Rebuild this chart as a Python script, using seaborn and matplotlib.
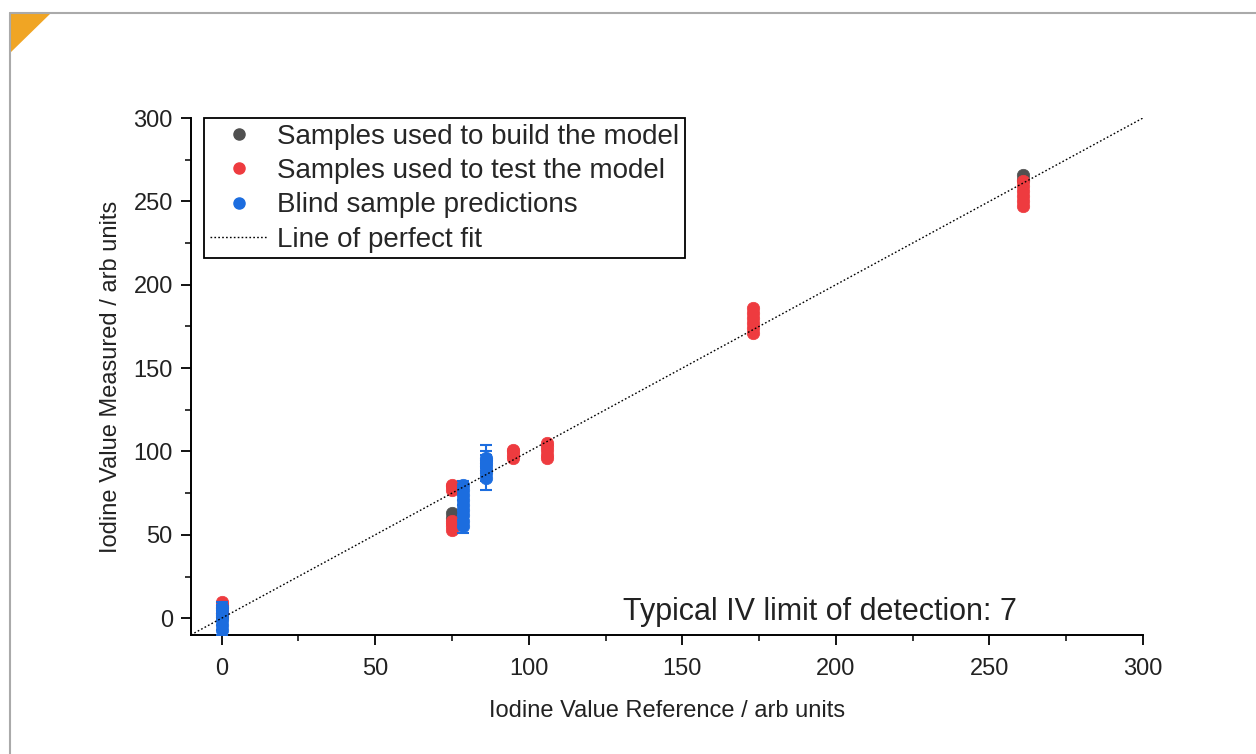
import numpy as np
import pandas as pd
import matplotlib
matplotlib.use("Agg")
import matplotlib.pyplot as plt
import seaborn as sns
from matplotlib.lines import Line2D
from matplotlib.patches import Polygon
from matplotlib.ticker import MultipleLocator

# ---- data ----
build_x = [0, 0, 75, 75, 261, 261]
build_y = [1, 3, 60, 63, 263, 266]

test_x = [0, 0, 0, 0,
          75, 75, 75, 75, 75, 75, 75,
          95, 95, 95, 95,
          106, 106, 106, 106, 106,
          173, 173, 173, 173, 173, 173,
          261, 261, 261, 261, 261, 261]
test_y = [3, 6, 8, 10,
          77, 79, 80, 53, 55, 57, 58,
          96, 98, 100, 101,
          96, 98, 101, 103, 105,
          171, 174, 177, 180, 183, 186,
          247, 250, 253, 256, 259, 262]

blind_x = [0, 0, 0, 0, 0, 0,
           78.6, 78.6, 78.6, 78.6, 78.6, 78.6, 78.6, 78.6, 78.6,
           86, 86, 86, 86, 86, 86, 86]
blind_y = [-7, -4, -1, 2, 5, 7,
           55, 58, 62, 65, 68, 71, 74, 77, 80,
           84, 87, 89, 91, 93, 95, 96]
blind_err = [3, 3, 3, 3, 3, 3,
             4, 3, 3, 3, 3, 3, 3, 3, 2,
             7, 5, 4, 4, 5, 5, 8]

fit_x = [-10, 300]
fit_y = [-10, 300]

labels = ["Samples used to build the model",
          "Samples used to test the model",
          "Blind sample predictions",
          "Line of perfect fit"]
annotation = "Typical IV limit of detection: 7"

c_build = "#505050"
c_test = "#ee3b3f"
c_blind = "#1c6ddf"

sns.set_theme(style="ticks")
plt.rcParams["font.family"] = ["Liberation Sans", "DejaVu Sans"]

fig = plt.figure(figsize=(12.56, 7.54), dpi=100)
ax = fig.add_axes([0.152, 0.158, 0.758, 0.6855])

df_build = pd.DataFrame({"x": build_x, "y": build_y})
df_test = pd.DataFrame({"x": test_x, "y": test_y})
df_blind = pd.DataFrame({"x": blind_x, "y": blind_y, "e": blind_err})

ax.plot(fit_x, fit_y, color="black", linestyle=(0, (1.2, 1.6)), linewidth=1.0, zorder=4)

sns.scatterplot(data=df_build, x="x", y="y", ax=ax, color=c_build, s=80,
                edgecolor=c_build, linewidth=0.5, zorder=2, legend=False)
sns.scatterplot(data=df_test, x="x", y="y", ax=ax, color=c_test, s=80,
                edgecolor=c_test, linewidth=0.5, zorder=3, legend=False)
ax.errorbar(df_blind["x"], df_blind["y"], yerr=df_blind["e"], fmt="none",
            ecolor=c_blind, elinewidth=1.5, capsize=4, capthick=1.5, zorder=3)
sns.scatterplot(data=df_blind, x="x", y="y", ax=ax, color=c_blind, s=80,
                edgecolor=c_blind, linewidth=0.5, zorder=3, legend=False)

ax.set_xlim(-10, 300)
ax.set_ylim(-10, 300)
ax.xaxis.set_major_locator(MultipleLocator(50))
ax.yaxis.set_major_locator(MultipleLocator(50))
ax.xaxis.set_minor_locator(MultipleLocator(25))
ax.yaxis.set_minor_locator(MultipleLocator(25))
ax.tick_params(which="major", direction="out", length=7, width=1.3, labelsize=17,
               colors="black", labelcolor="#222222")
ax.tick_params(axis="x", which="major", pad=10)
ax.tick_params(axis="y", which="major", pad=6)
ax.tick_params(which="minor", direction="out", length=4, width=1.1, colors="black")
for s in ["top", "right"]:
    ax.spines[s].set_visible(False)
for s in ["left", "bottom"]:
    ax.spines[s].set_linewidth(1.4)
    ax.spines[s].set_color("black")

ax.set_xlabel("Iodine Value Reference / arb units", fontsize=17, color="#222222", labelpad=14)
ax.set_ylabel("Iodine Value Measured / arb units", fontsize=17, color="#222222", labelpad=8)

handles = [
    Line2D([], [], linestyle="none", marker="o", markersize=8, color=c_build),
    Line2D([], [], linestyle="none", marker="o", markersize=8, color=c_test),
    Line2D([], [], linestyle="none", marker="o", markersize=8, color=c_blind),
    Line2D([], [], linestyle=(0, (1.2, 1.6)), linewidth=1.0, color="black"),
]
leg = ax.legend(handles, labels, loc="upper left", bbox_to_anchor=(0.014, 1.0),
                fontsize=20, frameon=True, fancybox=False, edgecolor="black",
                framealpha=1, borderpad=0.2, labelspacing=0.3, handlelength=2.1,
                handletextpad=0.33, borderaxespad=0)
leg.get_frame().set_linewidth(1.3)

ax.text(0.868, 0.045, annotation, transform=ax.transAxes, ha="right", va="center",
        fontsize=22, color="#222222")

# screenshot frame decoration
fig.add_artist(Line2D([10 / 1256, 1.0], [1 - 13 / 754, 1 - 13 / 754],
                      transform=fig.transFigure, color="#aaaaaa", linewidth=1.5))
fig.add_artist(Line2D([10 / 1256, 10 / 1256], [1 - 13 / 754, 0.0],
                      transform=fig.transFigure, color="#aaaaaa", linewidth=1.5))
fig.add_artist(Polygon([[10 / 1256, 1 - 13 / 754], [51 / 1256, 1 - 13 / 754],
                        [10 / 1256, 1 - 53 / 754]], closed=True,
                       transform=fig.transFigure, color="#f0a524", linewidth=0))

fig.savefig("out.png", dpi=100)
